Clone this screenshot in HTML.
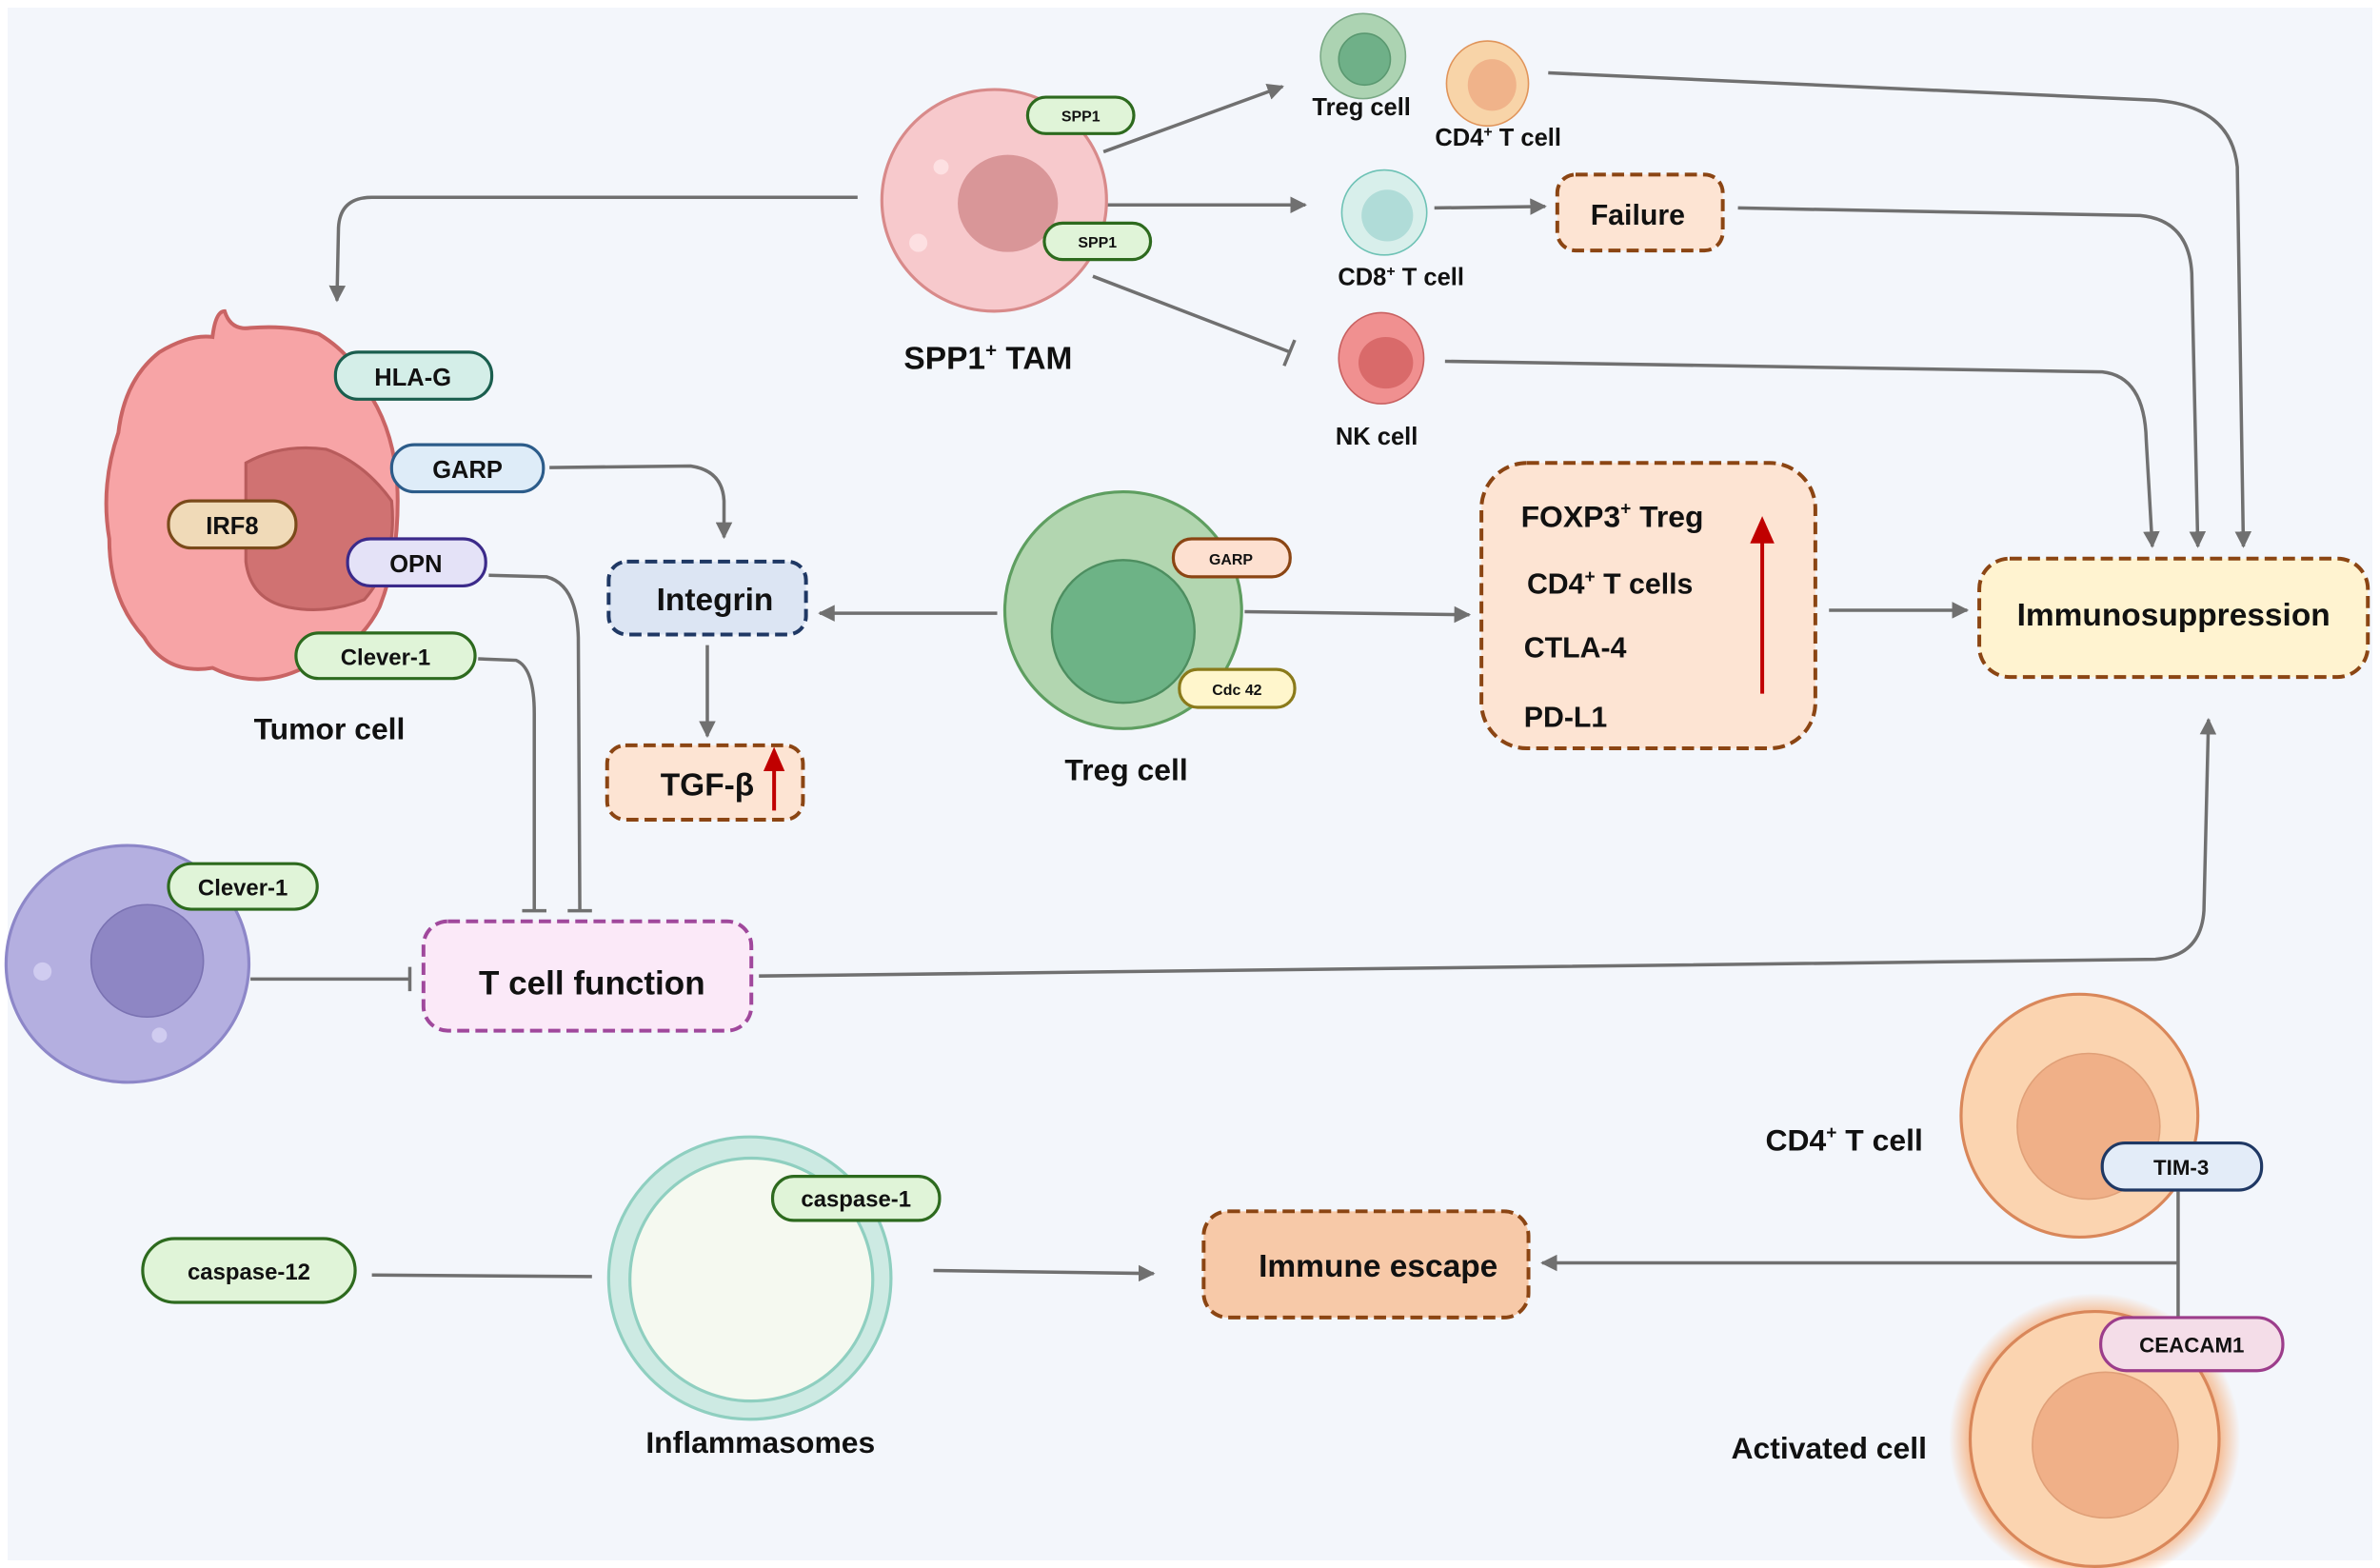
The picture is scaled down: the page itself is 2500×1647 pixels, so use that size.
<!DOCTYPE html>
<html><head><meta charset="utf-8"><style>
html,body{margin:0;padding:0;background:#fff}
svg{display:block}
text{font-family:"Liberation Sans",sans-serif;font-weight:bold;fill:#111}
</style></head><body>
<svg width="2500" height="1647" viewBox="0 0 1568 1033" xmlns="http://www.w3.org/2000/svg">
<defs>
<marker id="a" viewBox="0 0 10 10" refX="9" refY="5" markerWidth="5" markerHeight="5" orient="auto"><path d="M0,0L10,5L0,10z" fill="#707070"/></marker>
<radialGradient id="glow"><stop offset="0.8" stop-color="#f7a060" stop-opacity="0.9"/><stop offset="1" stop-color="#f7a060" stop-opacity="0"/></radialGradient>
</defs>
<rect x="0" y="0" width="1568" height="1033" fill="#fff"/>
<rect x="5" y="5" width="1558" height="1023" fill="#f3f6fb"/>

<g fill="none" stroke="#707070" stroke-width="2.2">
<path d="M565,130 L245,130 Q224,130 223,150 L222,198" marker-end="url(#a)"/>
<path d="M727,100 L845,57" marker-end="url(#a)"/>
<path d="M727,135 L860,135" marker-end="url(#a)"/>
<path d="M720,182 L850,232 M846,241 L853,224"/>
<path d="M945,137 L1018,136" marker-end="url(#a)"/>
<path d="M1020,48 L1420,66 Q1470,70 1474,110 L1478,360" marker-end="url(#a)"/>
<path d="M1145,137 L1410,142 Q1442,145 1444,180 L1448,360" marker-end="url(#a)"/>
<path d="M952,238 L1385,245 Q1413,248 1414,290 L1418,360" marker-end="url(#a)"/>
<path d="M362,308 L455,307 Q476,310 477,330 L477,354" marker-end="url(#a)"/>
<path d="M466,425 L466,485" marker-end="url(#a)"/>
<path d="M657,404 L540,404" marker-end="url(#a)"/>
<path d="M820,403 L968,405" marker-end="url(#a)"/>
<path d="M1205,402 L1296,402" marker-end="url(#a)"/>
<path d="M322,379 L360,380 Q380,385 381,420 L382,600 M374,600 L390,600"/>
<path d="M315,434 L340,435 Q352,440 352,470 L352,600 M344,600 L360,600"/>
<path d="M165,645 L270,645 M270,637 L270,653"/>
<path d="M500,643 L1420,632 Q1450,630 1452,600 L1455,474" marker-end="url(#a)"/>
<path d="M245,840 L390,841"/>
<path d="M615,837 L760,839" marker-end="url(#a)"/>
<path d="M1435,785 L1435,870 M1435,832 L1016,832" marker-end="url(#a)"/>
</g>

<!-- SPP1 TAM -->
<ellipse cx="655" cy="132" rx="74" ry="73" fill="#f7c9cc" stroke="#d88a8a" stroke-width="2"/>
<ellipse cx="664" cy="134" rx="33" ry="32" fill="#d99698"/>
<circle cx="620" cy="110" r="5" fill="#fde0e2"/><circle cx="605" cy="160" r="6" fill="#fde0e2"/><circle cx="700" cy="155" r="4" fill="#fde0e2"/>
<rect x="677" y="64" width="70" height="24" rx="12" fill="#e0f4d8" stroke="#2d6a1e" stroke-width="2"/>
<text x="712" y="80" font-size="10" text-anchor="middle">SPP1</text>
<rect x="688" y="147" width="70" height="24" rx="12" fill="#e0f4d8" stroke="#2d6a1e" stroke-width="2"/>
<text x="723" y="163" font-size="10" text-anchor="middle">SPP1</text>
<text x="651" y="243" font-size="21" text-anchor="middle">SPP1<tspan font-size="13" dy="-8">+</tspan><tspan dy="8"> TAM</tspan></text>

<!-- small cells -->
<ellipse cx="898" cy="37" rx="28" ry="28" fill="#acd3b2" stroke="#7aa985" stroke-width="1"/>
<ellipse cx="899" cy="39" rx="17" ry="17" fill="#6fb088" stroke="#5a9870"/>
<text x="897" y="76" font-size="16" text-anchor="middle">Treg cell</text>
<ellipse cx="980" cy="55" rx="27" ry="28" fill="#f8d4a8" stroke="#e0945a" stroke-width="1"/>
<ellipse cx="983" cy="56" rx="16" ry="17" fill="#f0b38a"/>
<text x="987" y="96" font-size="16" text-anchor="middle">CD4<tspan font-size="10" dy="-6">+</tspan><tspan dy="6"> T cell</tspan></text>
<ellipse cx="912" cy="140" rx="28" ry="28" fill="#d8efeb" stroke="#6ec2b5" stroke-width="1"/>
<ellipse cx="914" cy="142" rx="17" ry="17" fill="#b0dcd8"/>
<text x="923" y="188" font-size="16" text-anchor="middle">CD8<tspan font-size="10" dy="-6">+</tspan><tspan dy="6"> T cell</tspan></text>
<rect x="1026" y="115" width="109" height="50" rx="12" fill="#fde4d3" stroke="#8b4513" stroke-width="2.5" stroke-dasharray="8,4"/>
<text x="1079" y="148" font-size="19" text-anchor="middle">Failure</text>
<ellipse cx="910" cy="236" rx="28" ry="30" fill="#f09090" stroke="#c86060" stroke-width="1"/>
<ellipse cx="913" cy="239" rx="18" ry="17" fill="#d96a6a"/>
<text x="907" y="293" font-size="16" text-anchor="middle">NK cell</text>

<!-- Tumor cell -->
<path d="M148,205 Q152,218 165,216 Q190,214 210,220 Q235,235 245,262 Q262,290 262,330 Q262,370 250,400 Q235,430 200,440 Q170,455 140,440 Q110,445 95,420 Q72,395 72,355 Q66,320 78,285 Q82,250 105,232 Q125,220 140,222 Q142,205 148,205 Z" fill="#f7a4a6" stroke="#c96464" stroke-width="2.5"/>
<path d="M162,305 Q185,292 215,296 Q240,305 258,330 Q262,370 240,395 Q215,405 190,400 Q165,395 162,370 Z" fill="#d07272" stroke="#b85c5c" stroke-width="2"/>
<rect x="221" y="232" width="103" height="31" rx="15" fill="#d4eee8" stroke="#1a5e4e" stroke-width="2"/>
<text x="272" y="254" font-size="16" text-anchor="middle">HLA-G</text>
<rect x="258" y="293" width="100" height="31" rx="15" fill="#deecf8" stroke="#2c5c8a" stroke-width="2"/>
<text x="308" y="315" font-size="16" text-anchor="middle">GARP</text>
<rect x="111" y="330" width="84" height="31" rx="15" fill="#f0dab8" stroke="#7a4a1a" stroke-width="2"/>
<text x="153" y="352" font-size="16" text-anchor="middle">IRF8</text>
<rect x="229" y="355" width="91" height="31" rx="15" fill="#e4e2f7" stroke="#3b2a8a" stroke-width="2"/>
<text x="274" y="377" font-size="16" text-anchor="middle">OPN</text>
<rect x="195" y="417" width="118" height="30" rx="15" fill="#e0f4d8" stroke="#2d6a1e" stroke-width="2"/>
<text x="254" y="438" font-size="15" text-anchor="middle">Clever-1</text>
<text x="217" y="487" font-size="20" text-anchor="middle">Tumor cell</text>

<!-- Integrin / TGF -->
<rect x="401" y="370" width="130" height="48" rx="12" fill="#dce5f3" stroke="#1f3864" stroke-width="2.5" stroke-dasharray="8,4"/>
<text x="471" y="402" font-size="21" text-anchor="middle">Integrin</text>
<rect x="400" y="491" width="129" height="49" rx="12" fill="#fde4d3" stroke="#8b4513" stroke-width="2.5" stroke-dasharray="8,4"/>
<text x="466" y="524" font-size="21" text-anchor="middle">TGF-β</text>
<path d="M510,534 L510,505" stroke="#c00000" stroke-width="2.5"/><path d="M503,508 L510,492 L517,508z" fill="#c00000"/>

<!-- Treg big -->
<circle cx="740" cy="402" r="78" fill="#b2d6b0" stroke="#5e9e60" stroke-width="2"/>
<circle cx="740" cy="416" r="47" fill="#6db386" stroke="#4d8e60" stroke-width="1.5"/>
<rect x="773" y="355" width="77" height="25" rx="12" fill="#fde0d0" stroke="#8b4513" stroke-width="2"/>
<text x="811" y="372" font-size="10" text-anchor="middle">GARP</text>
<rect x="777" y="441" width="76" height="25" rx="12" fill="#fff6cc" stroke="#8a7a1a" stroke-width="2"/>
<text x="815" y="458" font-size="10" text-anchor="middle">Cdc 42</text>
<text x="742" y="514" font-size="20" text-anchor="middle">Treg cell</text>

<!-- FOXP3 -->
<rect x="976" y="305" width="220" height="188" rx="30" fill="#fde4d3" stroke="#8b4513" stroke-width="2.5" stroke-dasharray="8,4"/>
<text x="1002" y="347" font-size="20">FOXP3<tspan font-size="12" dy="-8">+</tspan><tspan dy="8"> Treg</tspan></text>
<text x="1006" y="391" font-size="19">CD4<tspan font-size="12" dy="-7">+</tspan><tspan dy="7"> T cells</tspan></text>
<text x="1004" y="433" font-size="19">CTLA-4</text>
<text x="1004" y="479" font-size="19">PD-L1</text>
<path d="M1161,457 L1161,355" stroke="#c00000" stroke-width="2.5"/><path d="M1153,358 L1161,340 L1169,358z" fill="#c00000"/>

<rect x="1304" y="368" width="256" height="78" rx="20" fill="#fff3d0" stroke="#8b4513" stroke-width="2.5" stroke-dasharray="8,4"/>
<text x="1432" y="412" font-size="21" text-anchor="middle">Immunosuppression</text>

<!-- purple cell -->
<ellipse cx="84" cy="635" rx="80" ry="78" fill="#b4afe0" stroke="#8d87c8" stroke-width="2"/>
<circle cx="97" cy="633" r="37" fill="#8e86c4" stroke="#7a72b2"/>
<circle cx="28" cy="640" r="6" fill="#d0ccf0"/><circle cx="105" cy="682" r="5" fill="#d0ccf0"/>
<rect x="111" y="569" width="98" height="30" rx="15" fill="#e0f4d8" stroke="#2d6a1e" stroke-width="2"/>
<text x="160" y="590" font-size="15" text-anchor="middle">Clever-1</text>
<rect x="279" y="607" width="216" height="72" rx="16" fill="#fbe9f8" stroke="#a0489c" stroke-width="2.5" stroke-dasharray="8,4"/>
<text x="390" y="655" font-size="22" text-anchor="middle">T cell function</text>

<!-- inflammasome -->
<circle cx="494" cy="842" r="93" fill="#cdeae3" stroke="#8fcfc0" stroke-width="2"/>
<circle cx="495" cy="843" r="80" fill="#f5f9f0" stroke="#8fcfc0" stroke-width="2"/>
<rect x="509" y="775" width="110" height="29" rx="14" fill="#e0f4d8" stroke="#2d6a1e" stroke-width="2"/>
<text x="564" y="795" font-size="15" text-anchor="middle">caspase-1</text>
<rect x="94" y="816" width="140" height="42" rx="21" fill="#e0f4d8" stroke="#2d6a1e" stroke-width="2"/>
<text x="164" y="843" font-size="15" text-anchor="middle">caspase-12</text>
<text x="501" y="957" font-size="20" text-anchor="middle">Inflammasomes</text>
<rect x="793" y="798" width="214" height="70" rx="16" fill="#f7c9a8" stroke="#8b4513" stroke-width="2.5" stroke-dasharray="8,4"/>
<text x="908" y="841" font-size="21" text-anchor="middle">Immune escape</text>

<!-- CD4 / activated -->
<ellipse cx="1370" cy="735" rx="78" ry="80" fill="#fbd4b0" stroke="#d9875a" stroke-width="2"/>
<ellipse cx="1376" cy="742" rx="47" ry="48" fill="#f0b088" stroke="#e0a078"/>
<text x="1215" y="758" font-size="20" text-anchor="middle">CD4<tspan font-size="12" dy="-8">+</tspan><tspan dy="8"> T cell</tspan></text>
<circle cx="1380" cy="948" r="96" fill="url(#glow)"/>
<ellipse cx="1380" cy="948" rx="82" ry="84" fill="#fbd4b0" stroke="#d9875a" stroke-width="2"/>
<ellipse cx="1387" cy="952" rx="48" ry="48" fill="#f0b088" stroke="#e0a078"/>
<text x="1205" y="961" font-size="20" text-anchor="middle">Activated  cell</text>
<rect x="1385" y="753" width="105" height="31" rx="15" fill="#e3ecf8" stroke="#1f3864" stroke-width="2"/>
<text x="1437" y="774" font-size="14" text-anchor="middle">TIM-3</text>
<rect x="1384" y="868" width="120" height="35" rx="17" fill="#f4dde8" stroke="#9c3d8b" stroke-width="2"/>
<text x="1444" y="891" font-size="14" text-anchor="middle">CEACAM1</text>
</svg>
</body></html>
